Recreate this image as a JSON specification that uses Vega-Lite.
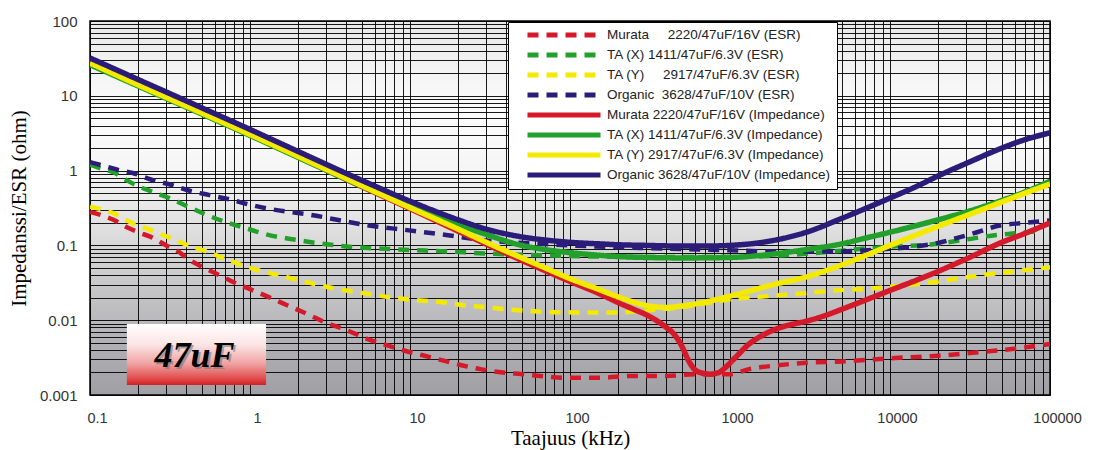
{
"$schema": "https://vega.github.io/schema/vega-lite/v6.json",
"width": 960, "height": 374,
"autosize": {"type": "none"},
"padding": {"left": 90, "top": 21, "right": 47, "bottom": 55},
"background": "#ffffff",
"view": {"fill": {"gradient": "linear", "x1": 0, "y1": 0, "x2": 0, "y2": 1, "stops": [{"offset": 0, "color": "#e8e8e8"}, {"offset": 0.12, "color": "#f2f2f2"}, {"offset": 0.25, "color": "#fcfcfc"}, {"offset": 0.4, "color": "#f5f5f5"}, {"offset": 0.55, "color": "#e0e0e0"}, {"offset": 0.7, "color": "#c8c8ca"}, {"offset": 0.85, "color": "#b2b2b6"}, {"offset": 1, "color": "#a0a0a4"}]}, "stroke": "#000000", "strokeWidth": 1.5},
"datasets": {
"tag": [{"x1": 0.17, "x2": 1.26, "y1": 0.00136, "y2": 0.0089, "tx": 0.45, "ty": 0.00237, "label": "47uF"}],
"curves": [
{"s":"Murata\u00a0\u00a0\u00a0\u00a0 2220/47uF/16V (ESR)","f":0.1,"v":0.28},{"s":"Murata\u00a0\u00a0\u00a0\u00a0 2220/47uF/16V (ESR)","f":0.12,"v":0.25},{"s":"Murata\u00a0\u00a0\u00a0\u00a0 2220/47uF/16V (ESR)","f":0.14,"v":0.22},{"s":"Murata\u00a0\u00a0\u00a0\u00a0 2220/47uF/16V (ESR)","f":0.17,"v":0.175},{"s":"Murata\u00a0\u00a0\u00a0\u00a0 2220/47uF/16V (ESR)","f":0.2,"v":0.15},{"s":"Murata\u00a0\u00a0\u00a0\u00a0 2220/47uF/16V (ESR)","f":0.24,"v":0.13},{"s":"Murata\u00a0\u00a0\u00a0\u00a0 2220/47uF/16V (ESR)","f":0.3,"v":0.1},{"s":"Murata\u00a0\u00a0\u00a0\u00a0 2220/47uF/16V (ESR)","f":0.35,"v":0.085},{"s":"Murata\u00a0\u00a0\u00a0\u00a0 2220/47uF/16V (ESR)","f":0.41,"v":0.066},{"s":"Murata\u00a0\u00a0\u00a0\u00a0 2220/47uF/16V (ESR)","f":0.5,"v":0.052},{"s":"Murata\u00a0\u00a0\u00a0\u00a0 2220/47uF/16V (ESR)","f":0.6,"v":0.043},{"s":"Murata\u00a0\u00a0\u00a0\u00a0 2220/47uF/16V (ESR)","f":0.73,"v":0.035},{"s":"Murata\u00a0\u00a0\u00a0\u00a0 2220/47uF/16V (ESR)","f":0.85,"v":0.03},{"s":"Murata\u00a0\u00a0\u00a0\u00a0 2220/47uF/16V (ESR)","f":1,"v":0.026},{"s":"Murata\u00a0\u00a0\u00a0\u00a0 2220/47uF/16V (ESR)","f":1.3,"v":0.0205},{"s":"Murata\u00a0\u00a0\u00a0\u00a0 2220/47uF/16V (ESR)","f":1.75,"v":0.0155},{"s":"Murata\u00a0\u00a0\u00a0\u00a0 2220/47uF/16V (ESR)","f":2.3,"v":0.012},{"s":"Murata\u00a0\u00a0\u00a0\u00a0 2220/47uF/16V (ESR)","f":3,"v":0.0092},{"s":"Murata\u00a0\u00a0\u00a0\u00a0 2220/47uF/16V (ESR)","f":4,"v":0.0074},{"s":"Murata\u00a0\u00a0\u00a0\u00a0 2220/47uF/16V (ESR)","f":5.2,"v":0.0058},{"s":"Murata\u00a0\u00a0\u00a0\u00a0 2220/47uF/16V (ESR)","f":7,"v":0.0047},{"s":"Murata\u00a0\u00a0\u00a0\u00a0 2220/47uF/16V (ESR)","f":9.3,"v":0.0039},{"s":"Murata\u00a0\u00a0\u00a0\u00a0 2220/47uF/16V (ESR)","f":12,"v":0.0034},{"s":"Murata\u00a0\u00a0\u00a0\u00a0 2220/47uF/16V (ESR)","f":16,"v":0.0029},{"s":"Murata\u00a0\u00a0\u00a0\u00a0 2220/47uF/16V (ESR)","f":21,"v":0.0025},{"s":"Murata\u00a0\u00a0\u00a0\u00a0 2220/47uF/16V (ESR)","f":28,"v":0.0022},{"s":"Murata\u00a0\u00a0\u00a0\u00a0 2220/47uF/16V (ESR)","f":38,"v":0.002},{"s":"Murata\u00a0\u00a0\u00a0\u00a0 2220/47uF/16V (ESR)","f":50,"v":0.0019},{"s":"Murata\u00a0\u00a0\u00a0\u00a0 2220/47uF/16V (ESR)","f":65,"v":0.0018},{"s":"Murata\u00a0\u00a0\u00a0\u00a0 2220/47uF/16V (ESR)","f":90,"v":0.0017},{"s":"Murata\u00a0\u00a0\u00a0\u00a0 2220/47uF/16V (ESR)","f":150,"v":0.0017},{"s":"Murata\u00a0\u00a0\u00a0\u00a0 2220/47uF/16V (ESR)","f":250,"v":0.0018},{"s":"Murata\u00a0\u00a0\u00a0\u00a0 2220/47uF/16V (ESR)","f":400,"v":0.0018},{"s":"Murata\u00a0\u00a0\u00a0\u00a0 2220/47uF/16V (ESR)","f":600,"v":0.0019},{"s":"Murata\u00a0\u00a0\u00a0\u00a0 2220/47uF/16V (ESR)","f":1000,"v":0.0019},{"s":"Murata\u00a0\u00a0\u00a0\u00a0 2220/47uF/16V (ESR)","f":1300,"v":0.0022},{"s":"Murata\u00a0\u00a0\u00a0\u00a0 2220/47uF/16V (ESR)","f":2000,"v":0.0025},{"s":"Murata\u00a0\u00a0\u00a0\u00a0 2220/47uF/16V (ESR)","f":3000,"v":0.0027},{"s":"Murata\u00a0\u00a0\u00a0\u00a0 2220/47uF/16V (ESR)","f":5000,"v":0.0028},{"s":"Murata\u00a0\u00a0\u00a0\u00a0 2220/47uF/16V (ESR)","f":10000,"v":0.0031},{"s":"Murata\u00a0\u00a0\u00a0\u00a0 2220/47uF/16V (ESR)","f":18000,"v":0.0033},{"s":"Murata\u00a0\u00a0\u00a0\u00a0 2220/47uF/16V (ESR)","f":30000,"v":0.0036},{"s":"Murata\u00a0\u00a0\u00a0\u00a0 2220/47uF/16V (ESR)","f":56000,"v":0.0041},{"s":"Murata\u00a0\u00a0\u00a0\u00a0 2220/47uF/16V (ESR)","f":100000,"v":0.0048},
{"s":"TA (X) 1411/47uF/6.3V (ESR)","f":0.1,"v":1.2},{"s":"TA (X) 1411/47uF/6.3V (ESR)","f":0.12,"v":1.05},{"s":"TA (X) 1411/47uF/6.3V (ESR)","f":0.14,"v":0.95},{"s":"TA (X) 1411/47uF/6.3V (ESR)","f":0.17,"v":0.74},{"s":"TA (X) 1411/47uF/6.3V (ESR)","f":0.2,"v":0.62},{"s":"TA (X) 1411/47uF/6.3V (ESR)","f":0.24,"v":0.53},{"s":"TA (X) 1411/47uF/6.3V (ESR)","f":0.33,"v":0.41},{"s":"TA (X) 1411/47uF/6.3V (ESR)","f":0.41,"v":0.33},{"s":"TA (X) 1411/47uF/6.3V (ESR)","f":0.55,"v":0.25},{"s":"TA (X) 1411/47uF/6.3V (ESR)","f":0.73,"v":0.2},{"s":"TA (X) 1411/47uF/6.3V (ESR)","f":1,"v":0.163},{"s":"TA (X) 1411/47uF/6.3V (ESR)","f":1.3,"v":0.138},{"s":"TA (X) 1411/47uF/6.3V (ESR)","f":1.75,"v":0.123},{"s":"TA (X) 1411/47uF/6.3V (ESR)","f":2.3,"v":0.112},{"s":"TA (X) 1411/47uF/6.3V (ESR)","f":4,"v":0.097},{"s":"TA (X) 1411/47uF/6.3V (ESR)","f":8.6,"v":0.088},{"s":"TA (X) 1411/47uF/6.3V (ESR)","f":17,"v":0.083},{"s":"TA (X) 1411/47uF/6.3V (ESR)","f":30,"v":0.078},{"s":"TA (X) 1411/47uF/6.3V (ESR)","f":50,"v":0.075},{"s":"TA (X) 1411/47uF/6.3V (ESR)","f":100,"v":0.072},{"s":"TA (X) 1411/47uF/6.3V (ESR)","f":300,"v":0.07},{"s":"TA (X) 1411/47uF/6.3V (ESR)","f":1000,"v":0.07},{"s":"TA (X) 1411/47uF/6.3V (ESR)","f":2000,"v":0.073},{"s":"TA (X) 1411/47uF/6.3V (ESR)","f":5000,"v":0.085},{"s":"TA (X) 1411/47uF/6.3V (ESR)","f":7500,"v":0.092},{"s":"TA (X) 1411/47uF/6.3V (ESR)","f":10000,"v":0.096},{"s":"TA (X) 1411/47uF/6.3V (ESR)","f":18000,"v":0.103},{"s":"TA (X) 1411/47uF/6.3V (ESR)","f":30000,"v":0.12},{"s":"TA (X) 1411/47uF/6.3V (ESR)","f":44000,"v":0.136},{"s":"TA (X) 1411/47uF/6.3V (ESR)","f":60000,"v":0.145},{"s":"TA (X) 1411/47uF/6.3V (ESR)","f":85000,"v":0.155},
{"s":"TA (Y)\u00a0\u00a0\u00a0\u00a0 2917/47uF/6.3V (ESR)","f":0.1,"v":0.33},{"s":"TA (Y)\u00a0\u00a0\u00a0\u00a0 2917/47uF/6.3V (ESR)","f":0.12,"v":0.3},{"s":"TA (Y)\u00a0\u00a0\u00a0\u00a0 2917/47uF/6.3V (ESR)","f":0.14,"v":0.27},{"s":"TA (Y)\u00a0\u00a0\u00a0\u00a0 2917/47uF/6.3V (ESR)","f":0.17,"v":0.215},{"s":"TA (Y)\u00a0\u00a0\u00a0\u00a0 2917/47uF/6.3V (ESR)","f":0.24,"v":0.16},{"s":"TA (Y)\u00a0\u00a0\u00a0\u00a0 2917/47uF/6.3V (ESR)","f":0.32,"v":0.125},{"s":"TA (Y)\u00a0\u00a0\u00a0\u00a0 2917/47uF/6.3V (ESR)","f":0.41,"v":0.1},{"s":"TA (Y)\u00a0\u00a0\u00a0\u00a0 2917/47uF/6.3V (ESR)","f":0.55,"v":0.081},{"s":"TA (Y)\u00a0\u00a0\u00a0\u00a0 2917/47uF/6.3V (ESR)","f":0.73,"v":0.064},{"s":"TA (Y)\u00a0\u00a0\u00a0\u00a0 2917/47uF/6.3V (ESR)","f":1,"v":0.05},{"s":"TA (Y)\u00a0\u00a0\u00a0\u00a0 2917/47uF/6.3V (ESR)","f":1.3,"v":0.043},{"s":"TA (Y)\u00a0\u00a0\u00a0\u00a0 2917/47uF/6.3V (ESR)","f":1.75,"v":0.037},{"s":"TA (Y)\u00a0\u00a0\u00a0\u00a0 2917/47uF/6.3V (ESR)","f":2.3,"v":0.032},{"s":"TA (Y)\u00a0\u00a0\u00a0\u00a0 2917/47uF/6.3V (ESR)","f":3,"v":0.028},{"s":"TA (Y)\u00a0\u00a0\u00a0\u00a0 2917/47uF/6.3V (ESR)","f":4,"v":0.025},{"s":"TA (Y)\u00a0\u00a0\u00a0\u00a0 2917/47uF/6.3V (ESR)","f":5.5,"v":0.0225},{"s":"TA (Y)\u00a0\u00a0\u00a0\u00a0 2917/47uF/6.3V (ESR)","f":7.2,"v":0.0205},{"s":"TA (Y)\u00a0\u00a0\u00a0\u00a0 2917/47uF/6.3V (ESR)","f":9.6,"v":0.019},{"s":"TA (Y)\u00a0\u00a0\u00a0\u00a0 2917/47uF/6.3V (ESR)","f":16,"v":0.0174},{"s":"TA (Y)\u00a0\u00a0\u00a0\u00a0 2917/47uF/6.3V (ESR)","f":21,"v":0.016},{"s":"TA (Y)\u00a0\u00a0\u00a0\u00a0 2917/47uF/6.3V (ESR)","f":30,"v":0.0149},{"s":"TA (Y)\u00a0\u00a0\u00a0\u00a0 2917/47uF/6.3V (ESR)","f":40,"v":0.014},{"s":"TA (Y)\u00a0\u00a0\u00a0\u00a0 2917/47uF/6.3V (ESR)","f":55,"v":0.0133},{"s":"TA (Y)\u00a0\u00a0\u00a0\u00a0 2917/47uF/6.3V (ESR)","f":80,"v":0.0128},{"s":"TA (Y)\u00a0\u00a0\u00a0\u00a0 2917/47uF/6.3V (ESR)","f":120,"v":0.0127},{"s":"TA (Y)\u00a0\u00a0\u00a0\u00a0 2917/47uF/6.3V (ESR)","f":200,"v":0.0127},{"s":"TA (Y)\u00a0\u00a0\u00a0\u00a0 2917/47uF/6.3V (ESR)","f":300,"v":0.0135},{"s":"TA (Y)\u00a0\u00a0\u00a0\u00a0 2917/47uF/6.3V (ESR)","f":500,"v":0.015},{"s":"TA (Y)\u00a0\u00a0\u00a0\u00a0 2917/47uF/6.3V (ESR)","f":700,"v":0.0168},{"s":"TA (Y)\u00a0\u00a0\u00a0\u00a0 2917/47uF/6.3V (ESR)","f":1000,"v":0.019},{"s":"TA (Y)\u00a0\u00a0\u00a0\u00a0 2917/47uF/6.3V (ESR)","f":1500,"v":0.0205},{"s":"TA (Y)\u00a0\u00a0\u00a0\u00a0 2917/47uF/6.3V (ESR)","f":2300,"v":0.022},{"s":"TA (Y)\u00a0\u00a0\u00a0\u00a0 2917/47uF/6.3V (ESR)","f":4500,"v":0.025},{"s":"TA (Y)\u00a0\u00a0\u00a0\u00a0 2917/47uF/6.3V (ESR)","f":7500,"v":0.0265},{"s":"TA (Y)\u00a0\u00a0\u00a0\u00a0 2917/47uF/6.3V (ESR)","f":12000,"v":0.029},{"s":"TA (Y)\u00a0\u00a0\u00a0\u00a0 2917/47uF/6.3V (ESR)","f":20000,"v":0.033},{"s":"TA (Y)\u00a0\u00a0\u00a0\u00a0 2917/47uF/6.3V (ESR)","f":37000,"v":0.04},{"s":"TA (Y)\u00a0\u00a0\u00a0\u00a0 2917/47uF/6.3V (ESR)","f":60000,"v":0.045},{"s":"TA (Y)\u00a0\u00a0\u00a0\u00a0 2917/47uF/6.3V (ESR)","f":100000,"v":0.051},
{"s":"Organic\u00a0 3628/47uF/10V (ESR)","f":0.1,"v":1.3},{"s":"Organic\u00a0 3628/47uF/10V (ESR)","f":0.107,"v":1.25},{"s":"Organic\u00a0 3628/47uF/10V (ESR)","f":0.125,"v":1.14},{"s":"Organic\u00a0 3628/47uF/10V (ESR)","f":0.15,"v":1.02},{"s":"Organic\u00a0 3628/47uF/10V (ESR)","f":0.185,"v":0.93},{"s":"Organic\u00a0 3628/47uF/10V (ESR)","f":0.24,"v":0.76},{"s":"Organic\u00a0 3628/47uF/10V (ESR)","f":0.325,"v":0.64},{"s":"Organic\u00a0 3628/47uF/10V (ESR)","f":0.43,"v":0.53},{"s":"Organic\u00a0 3628/47uF/10V (ESR)","f":0.56,"v":0.47},{"s":"Organic\u00a0 3628/47uF/10V (ESR)","f":0.75,"v":0.41},{"s":"Organic\u00a0 3628/47uF/10V (ESR)","f":1,"v":0.35},{"s":"Organic\u00a0 3628/47uF/10V (ESR)","f":1.3,"v":0.31},{"s":"Organic\u00a0 3628/47uF/10V (ESR)","f":1.78,"v":0.28},{"s":"Organic\u00a0 3628/47uF/10V (ESR)","f":2.3,"v":0.26},{"s":"Organic\u00a0 3628/47uF/10V (ESR)","f":3.5,"v":0.22},{"s":"Organic\u00a0 3628/47uF/10V (ESR)","f":5.4,"v":0.186},{"s":"Organic\u00a0 3628/47uF/10V (ESR)","f":9.6,"v":0.16},{"s":"Organic\u00a0 3628/47uF/10V (ESR)","f":16,"v":0.14},{"s":"Organic\u00a0 3628/47uF/10V (ESR)","f":28,"v":0.118},{"s":"Organic\u00a0 3628/47uF/10V (ESR)","f":65,"v":0.105},{"s":"Organic\u00a0 3628/47uF/10V (ESR)","f":100,"v":0.1},{"s":"Organic\u00a0 3628/47uF/10V (ESR)","f":300,"v":0.092},{"s":"Organic\u00a0 3628/47uF/10V (ESR)","f":1000,"v":0.086},{"s":"Organic\u00a0 3628/47uF/10V (ESR)","f":1850,"v":0.083},{"s":"Organic\u00a0 3628/47uF/10V (ESR)","f":4700,"v":0.083},{"s":"Organic\u00a0 3628/47uF/10V (ESR)","f":9000,"v":0.089},{"s":"Organic\u00a0 3628/47uF/10V (ESR)","f":14000,"v":0.096},{"s":"Organic\u00a0 3628/47uF/10V (ESR)","f":20000,"v":0.108},{"s":"Organic\u00a0 3628/47uF/10V (ESR)","f":26000,"v":0.125},{"s":"Organic\u00a0 3628/47uF/10V (ESR)","f":35000,"v":0.15},{"s":"Organic\u00a0 3628/47uF/10V (ESR)","f":46000,"v":0.18},{"s":"Organic\u00a0 3628/47uF/10V (ESR)","f":70000,"v":0.2},{"s":"Organic\u00a0 3628/47uF/10V (ESR)","f":100000,"v":0.215},
{"s":"Murata 2220/47uF/16V (Impedance)","f":0.1,"v":28},{"s":"Murata 2220/47uF/16V (Impedance)","f":0.2,"v":14.3},{"s":"Murata 2220/47uF/16V (Impedance)","f":0.5,"v":5.9},{"s":"Murata 2220/47uF/16V (Impedance)","f":1,"v":3.0},{"s":"Murata 2220/47uF/16V (Impedance)","f":2,"v":1.52},{"s":"Murata 2220/47uF/16V (Impedance)","f":5,"v":0.61},{"s":"Murata 2220/47uF/16V (Impedance)","f":10,"v":0.31},{"s":"Murata 2220/47uF/16V (Impedance)","f":20,"v":0.155},{"s":"Murata 2220/47uF/16V (Impedance)","f":50,"v":0.063},{"s":"Murata 2220/47uF/16V (Impedance)","f":100,"v":0.033},{"s":"Murata 2220/47uF/16V (Impedance)","f":150,"v":0.023},{"s":"Murata 2220/47uF/16V (Impedance)","f":200,"v":0.0172},{"s":"Murata 2220/47uF/16V (Impedance)","f":250,"v":0.014},{"s":"Murata 2220/47uF/16V (Impedance)","f":300,"v":0.0118},{"s":"Murata 2220/47uF/16V (Impedance)","f":350,"v":0.0098},{"s":"Murata 2220/47uF/16V (Impedance)","f":400,"v":0.008},{"s":"Murata 2220/47uF/16V (Impedance)","f":450,"v":0.0064},{"s":"Murata 2220/47uF/16V (Impedance)","f":500,"v":0.0045},{"s":"Murata 2220/47uF/16V (Impedance)","f":550,"v":0.0029},{"s":"Murata 2220/47uF/16V (Impedance)","f":600,"v":0.0022},{"s":"Murata 2220/47uF/16V (Impedance)","f":650,"v":0.002},{"s":"Murata 2220/47uF/16V (Impedance)","f":750,"v":0.0019},{"s":"Murata 2220/47uF/16V (Impedance)","f":850,"v":0.002},{"s":"Murata 2220/47uF/16V (Impedance)","f":950,"v":0.0024},{"s":"Murata 2220/47uF/16V (Impedance)","f":1100,"v":0.0033},{"s":"Murata 2220/47uF/16V (Impedance)","f":1300,"v":0.0047},{"s":"Murata 2220/47uF/16V (Impedance)","f":1600,"v":0.0063},{"s":"Murata 2220/47uF/16V (Impedance)","f":2000,"v":0.0078},{"s":"Murata 2220/47uF/16V (Impedance)","f":2500,"v":0.0089},{"s":"Murata 2220/47uF/16V (Impedance)","f":3000,"v":0.0097},{"s":"Murata 2220/47uF/16V (Impedance)","f":4000,"v":0.0117},{"s":"Murata 2220/47uF/16V (Impedance)","f":5000,"v":0.014},{"s":"Murata 2220/47uF/16V (Impedance)","f":7000,"v":0.0185},{"s":"Murata 2220/47uF/16V (Impedance)","f":10000,"v":0.025},{"s":"Murata 2220/47uF/16V (Impedance)","f":15000,"v":0.035},{"s":"Murata 2220/47uF/16V (Impedance)","f":20000,"v":0.045},{"s":"Murata 2220/47uF/16V (Impedance)","f":30000,"v":0.066},{"s":"Murata 2220/47uF/16V (Impedance)","f":50000,"v":0.11},{"s":"Murata 2220/47uF/16V (Impedance)","f":70000,"v":0.145},{"s":"Murata 2220/47uF/16V (Impedance)","f":100000,"v":0.2},
{"s":"TA (X) 1411/47uF/6.3V (Impedance)","f":0.1,"v":26},{"s":"TA (X) 1411/47uF/6.3V (Impedance)","f":0.2,"v":13.5},{"s":"TA (X) 1411/47uF/6.3V (Impedance)","f":0.5,"v":5.7},{"s":"TA (X) 1411/47uF/6.3V (Impedance)","f":1,"v":2.95},{"s":"TA (X) 1411/47uF/6.3V (Impedance)","f":2,"v":1.5},{"s":"TA (X) 1411/47uF/6.3V (Impedance)","f":5,"v":0.62},{"s":"TA (X) 1411/47uF/6.3V (Impedance)","f":10,"v":0.33},{"s":"TA (X) 1411/47uF/6.3V (Impedance)","f":20,"v":0.19},{"s":"TA (X) 1411/47uF/6.3V (Impedance)","f":30,"v":0.14},{"s":"TA (X) 1411/47uF/6.3V (Impedance)","f":50,"v":0.1},{"s":"TA (X) 1411/47uF/6.3V (Impedance)","f":70,"v":0.088},{"s":"TA (X) 1411/47uF/6.3V (Impedance)","f":100,"v":0.08},{"s":"TA (X) 1411/47uF/6.3V (Impedance)","f":150,"v":0.074},{"s":"TA (X) 1411/47uF/6.3V (Impedance)","f":200,"v":0.071},{"s":"TA (X) 1411/47uF/6.3V (Impedance)","f":300,"v":0.069},{"s":"TA (X) 1411/47uF/6.3V (Impedance)","f":500,"v":0.068},{"s":"TA (X) 1411/47uF/6.3V (Impedance)","f":1000,"v":0.069},{"s":"TA (X) 1411/47uF/6.3V (Impedance)","f":1500,"v":0.073},{"s":"TA (X) 1411/47uF/6.3V (Impedance)","f":2000,"v":0.078},{"s":"TA (X) 1411/47uF/6.3V (Impedance)","f":3000,"v":0.088},{"s":"TA (X) 1411/47uF/6.3V (Impedance)","f":5000,"v":0.105},{"s":"TA (X) 1411/47uF/6.3V (Impedance)","f":7000,"v":0.125},{"s":"TA (X) 1411/47uF/6.3V (Impedance)","f":10000,"v":0.15},{"s":"TA (X) 1411/47uF/6.3V (Impedance)","f":20000,"v":0.22},{"s":"TA (X) 1411/47uF/6.3V (Impedance)","f":30000,"v":0.28},{"s":"TA (X) 1411/47uF/6.3V (Impedance)","f":50000,"v":0.4},{"s":"TA (X) 1411/47uF/6.3V (Impedance)","f":70000,"v":0.52},{"s":"TA (X) 1411/47uF/6.3V (Impedance)","f":100000,"v":0.72},
{"s":"TA (Y) 2917/47uF/6.3V (Impedance)","f":0.1,"v":27.5},{"s":"TA (Y) 2917/47uF/6.3V (Impedance)","f":0.2,"v":14},{"s":"TA (Y) 2917/47uF/6.3V (Impedance)","f":0.5,"v":5.9},{"s":"TA (Y) 2917/47uF/6.3V (Impedance)","f":1,"v":3.05},{"s":"TA (Y) 2917/47uF/6.3V (Impedance)","f":2,"v":1.55},{"s":"TA (Y) 2917/47uF/6.3V (Impedance)","f":5,"v":0.63},{"s":"TA (Y) 2917/47uF/6.3V (Impedance)","f":10,"v":0.32},{"s":"TA (Y) 2917/47uF/6.3V (Impedance)","f":20,"v":0.165},{"s":"TA (Y) 2917/47uF/6.3V (Impedance)","f":30,"v":0.11},{"s":"TA (Y) 2917/47uF/6.3V (Impedance)","f":50,"v":0.068},{"s":"TA (Y) 2917/47uF/6.3V (Impedance)","f":70,"v":0.05},{"s":"TA (Y) 2917/47uF/6.3V (Impedance)","f":100,"v":0.036},{"s":"TA (Y) 2917/47uF/6.3V (Impedance)","f":150,"v":0.026},{"s":"TA (Y) 2917/47uF/6.3V (Impedance)","f":200,"v":0.0205},{"s":"TA (Y) 2917/47uF/6.3V (Impedance)","f":250,"v":0.0175},{"s":"TA (Y) 2917/47uF/6.3V (Impedance)","f":300,"v":0.0157},{"s":"TA (Y) 2917/47uF/6.3V (Impedance)","f":400,"v":0.0148},{"s":"TA (Y) 2917/47uF/6.3V (Impedance)","f":500,"v":0.0155},{"s":"TA (Y) 2917/47uF/6.3V (Impedance)","f":700,"v":0.0175},{"s":"TA (Y) 2917/47uF/6.3V (Impedance)","f":1000,"v":0.021},{"s":"TA (Y) 2917/47uF/6.3V (Impedance)","f":2000,"v":0.031},{"s":"TA (Y) 2917/47uF/6.3V (Impedance)","f":3000,"v":0.038},{"s":"TA (Y) 2917/47uF/6.3V (Impedance)","f":5000,"v":0.055},{"s":"TA (Y) 2917/47uF/6.3V (Impedance)","f":7000,"v":0.073},{"s":"TA (Y) 2917/47uF/6.3V (Impedance)","f":10000,"v":0.1},{"s":"TA (Y) 2917/47uF/6.3V (Impedance)","f":20000,"v":0.18},{"s":"TA (Y) 2917/47uF/6.3V (Impedance)","f":30000,"v":0.25},{"s":"TA (Y) 2917/47uF/6.3V (Impedance)","f":50000,"v":0.38},{"s":"TA (Y) 2917/47uF/6.3V (Impedance)","f":70000,"v":0.5},{"s":"TA (Y) 2917/47uF/6.3V (Impedance)","f":100000,"v":0.66},
{"s":"Organic 3628/47uF/10V (Impedance)","f":0.1,"v":32},{"s":"Organic 3628/47uF/10V (Impedance)","f":0.2,"v":16.5},{"s":"Organic 3628/47uF/10V (Impedance)","f":0.5,"v":6.9},{"s":"Organic 3628/47uF/10V (Impedance)","f":1,"v":3.55},{"s":"Organic 3628/47uF/10V (Impedance)","f":2,"v":1.8},{"s":"Organic 3628/47uF/10V (Impedance)","f":5,"v":0.74},{"s":"Organic 3628/47uF/10V (Impedance)","f":10,"v":0.39},{"s":"Organic 3628/47uF/10V (Impedance)","f":20,"v":0.22},{"s":"Organic 3628/47uF/10V (Impedance)","f":30,"v":0.165},{"s":"Organic 3628/47uF/10V (Impedance)","f":50,"v":0.13},{"s":"Organic 3628/47uF/10V (Impedance)","f":70,"v":0.118},{"s":"Organic 3628/47uF/10V (Impedance)","f":100,"v":0.11},{"s":"Organic 3628/47uF/10V (Impedance)","f":150,"v":0.105},{"s":"Organic 3628/47uF/10V (Impedance)","f":200,"v":0.102},{"s":"Organic 3628/47uF/10V (Impedance)","f":300,"v":0.1},{"s":"Organic 3628/47uF/10V (Impedance)","f":500,"v":0.098},{"s":"Organic 3628/47uF/10V (Impedance)","f":700,"v":0.098},{"s":"Organic 3628/47uF/10V (Impedance)","f":1000,"v":0.1},{"s":"Organic 3628/47uF/10V (Impedance)","f":1500,"v":0.108},{"s":"Organic 3628/47uF/10V (Impedance)","f":2000,"v":0.12},{"s":"Organic 3628/47uF/10V (Impedance)","f":3000,"v":0.15},{"s":"Organic 3628/47uF/10V (Impedance)","f":5000,"v":0.23},{"s":"Organic 3628/47uF/10V (Impedance)","f":7000,"v":0.31},{"s":"Organic 3628/47uF/10V (Impedance)","f":10000,"v":0.43},{"s":"Organic 3628/47uF/10V (Impedance)","f":15000,"v":0.63},{"s":"Organic 3628/47uF/10V (Impedance)","f":20000,"v":0.85},{"s":"Organic 3628/47uF/10V (Impedance)","f":30000,"v":1.25},{"s":"Organic 3628/47uF/10V (Impedance)","f":50000,"v":2.0},{"s":"Organic 3628/47uF/10V (Impedance)","f":70000,"v":2.6},{"s":"Organic 3628/47uF/10V (Impedance)","f":100000,"v":3.2}
]
},
"layer": [
{
"data": {"name": "curves"},
"transform": [{"filter": "indexof(datum.s, 'ESR') >= 0"}],
"mark": {"type": "line", "interpolate": "monotone", "strokeWidth": 4.5, "strokeCap": "butt", "clip": true},
"encoding": {
"x": {"field": "f", "type": "quantitative", "scale": {"type": "log", "domain": [0.1, 100000], "nice": false},
 "axis": {"title": "Taajuus (kHz)", "values": [0.1,0.2,0.3,0.4,0.5,0.6,0.7,0.8,0.9,1,2,3,4,5,6,7,8,9,10,20,30,40,50,60,70,80,90,100,200,300,400,500,600,700,800,900,1000,2000,3000,4000,5000,6000,7000,8000,9000,10000,20000,30000,40000,50000,60000,70000,80000,90000,100000],
 "grid": true, "gridColor": "#000000", "gridWidth": 1, "gridOpacity": 0.9, "ticks": false, "domain": false,
 "labelExpr": "indexof([0.1,1,10,100,1000,10000,100000], datum.value) >= 0 ? format(datum.value, '~g') : ''",
 "labelFont": "Liberation Sans", "labelFontSize": 14.5, "labelColor": "#333333", "labelPadding": 16, "labelOffset": 7, "labelFlush": false, "labelOverlap": false,
 "titleFont": "Liberation Serif", "titleFontSize": 21, "titleFontWeight": "normal", "titleColor": "#000000", "titlePadding": 3}},
"y": {"field": "v", "type": "quantitative", "scale": {"type": "log", "domain": [0.001, 100], "nice": false},
 "axis": {"title": "Impedanssi/ESR (ohm)", "values": [0.001,0.002,0.003,0.004,0.005,0.006,0.007,0.008,0.009,0.01,0.02,0.03,0.04,0.05,0.06,0.07,0.08,0.09,0.1,0.2,0.3,0.4,0.5,0.6,0.7,0.8,0.9,1,2,3,4,5,6,7,8,9,10,20,30,40,50,60,70,80,90,100],
 "grid": true, "gridColor": "#000000", "gridWidth": 1, "gridOpacity": 0.9, "ticks": false, "domain": false,
 "labelExpr": "indexof([0.001,0.01,0.1,1,10,100], datum.value) >= 0 ? format(datum.value, '~g') : ''",
 "labelFont": "Liberation Sans", "labelFontSize": 15, "labelColor": "#333333", "labelPadding": 13, "labelOverlap": false, "labelFlush": false,
 "titleFont": "Liberation Serif", "titleFontSize": 21, "titleFontWeight": "normal", "titleColor": "#000000", "titlePadding": 10}},
"color": {"field": "s", "type": "nominal",
 "scale": {"domain": ["Murata\u00a0\u00a0\u00a0\u00a0 2220/47uF/16V (ESR)", "TA (X) 1411/47uF/6.3V (ESR)", "TA (Y)\u00a0\u00a0\u00a0\u00a0 2917/47uF/6.3V (ESR)", "Organic\u00a0 3628/47uF/10V (ESR)", "Murata 2220/47uF/16V (Impedance)", "TA (X) 1411/47uF/6.3V (Impedance)", "TA (Y) 2917/47uF/6.3V (Impedance)", "Organic 3628/47uF/10V (Impedance)"],
  "range": ["#d4192b", "#22a02b", "#f3ea00", "#2c1c7a", "#d4192b", "#22a02b", "#f3ea00", "#2c1c7a"]},
 "legend": {"title": null, "orient": "none", "legendX": 418, "legendY": 1, "padding": 7, "symbolOffset": 10, "fillColor": "#ffffff", "strokeColor": "#000000", "cornerRadius": 0,
  "symbolType": "stroke", "symbolSize": 5329, "symbolStrokeWidth": 5, "clipHeight": 12, "rowPadding": 6, "labelFont": "Liberation Sans", "labelFontSize": 13.5, "labelColor": "#222222", "labelOffset": 4, "labelLimit": 400}},
"strokeDash": {"field": "s", "type": "nominal",
 "scale": {"domain": ["Murata\u00a0\u00a0\u00a0\u00a0 2220/47uF/16V (ESR)", "TA (X) 1411/47uF/6.3V (ESR)", "TA (Y)\u00a0\u00a0\u00a0\u00a0 2917/47uF/6.3V (ESR)", "Organic\u00a0 3628/47uF/10V (ESR)", "Murata 2220/47uF/16V (Impedance)", "TA (X) 1411/47uF/6.3V (Impedance)", "TA (Y) 2917/47uF/6.3V (Impedance)", "Organic 3628/47uF/10V (Impedance)"],
  "range": [[11, 8], [11, 8], [11, 8], [11, 8], [1, 0], [1, 0], [1, 0], [1, 0]]},
 "legend": {"title": null, "orient": "none", "legendX": 418, "legendY": 1, "padding": 7, "symbolOffset": 10, "fillColor": "#ffffff", "strokeColor": "#000000", "cornerRadius": 0,
  "symbolType": "stroke", "symbolSize": 5329, "symbolStrokeWidth": 5, "clipHeight": 12, "rowPadding": 6, "labelFont": "Liberation Sans", "labelFontSize": 13.5, "labelColor": "#222222", "labelOffset": 4, "labelLimit": 400}}
}
},
{
"data": {"name": "curves"},
"transform": [{"filter": "indexof(datum.s, 'ESR') < 0"}],
"mark": {"type": "line", "interpolate": "monotone", "strokeWidth": 5.5, "strokeCap": "butt", "clip": true},
"encoding": {
"x": {"field": "f", "type": "quantitative", "scale": {"type": "log", "domain": [0.1, 100000], "nice": false}, "title": "Taajuus (kHz)"},
"y": {"field": "v", "type": "quantitative", "scale": {"type": "log", "domain": [0.001, 100], "nice": false}, "title": "Impedanssi/ESR (ohm)"},
"color": {"field": "s", "type": "nominal"},
"strokeDash": {"field": "s", "type": "nominal"}
}
},
{
"data": {"name": "tag"},
"mark": {"type": "rect", "fill": {"gradient": "linear", "x1": 0, "y1": 0, "x2": 0, "y2": 1, "stops": [{"offset": 0, "color": "#ffffff"}, {"offset": 0.35, "color": "#fbe3e3"}, {"offset": 0.65, "color": "#f0a2a2"}, {"offset": 0.9, "color": "#e04a4a"}, {"offset": 1, "color": "#d41f26"}]}},
"encoding": {
"x": {"field": "x1", "type": "quantitative", "scale": {"type": "log", "domain": [0.1, 100000], "nice": false}, "title": "Taajuus (kHz)"},
"x2": {"field": "x2"},
"y": {"field": "y1", "type": "quantitative", "scale": {"type": "log", "domain": [0.001, 100], "nice": false}, "title": "Impedanssi/ESR (ohm)"},
"y2": {"field": "y2"}
}
},
{
"data": {"name": "tag"},
"mark": {"type": "text", "font": "Liberation Serif", "fontSize": 36, "fontStyle": "italic", "fontWeight": "bold", "align": "center", "baseline": "alphabetic", "fill": "#777777", "opacity": 0.6, "dx": 2, "dy": 2},
"encoding": {
"x": {"field": "tx", "type": "quantitative", "scale": {"type": "log", "domain": [0.1, 100000], "nice": false}, "title": "Taajuus (kHz)"},
"y": {"field": "ty", "type": "quantitative", "scale": {"type": "log", "domain": [0.001, 100], "nice": false}, "title": "Impedanssi/ESR (ohm)"},
"text": {"field": "label"}
}
},
{
"data": {"name": "tag"},
"mark": {"type": "text", "font": "Liberation Serif", "fontSize": 36, "fontStyle": "italic", "fontWeight": "bold", "align": "center", "baseline": "alphabetic", "fill": "#000000"},
"encoding": {
"x": {"field": "tx", "type": "quantitative", "scale": {"type": "log", "domain": [0.1, 100000], "nice": false}, "title": "Taajuus (kHz)"},
"y": {"field": "ty", "type": "quantitative", "scale": {"type": "log", "domain": [0.001, 100], "nice": false}, "title": "Impedanssi/ESR (ohm)"},
"text": {"field": "label"}
}
}
]
}
